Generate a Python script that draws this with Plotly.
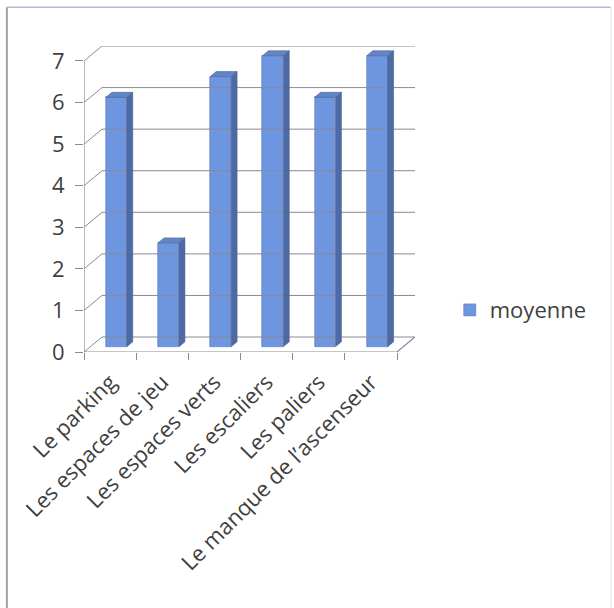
import plotly.graph_objects as go

# Survey results: mean score per item
categories = [
    "Le parking",
    "Les espaces de jeu",
    "Les espaces verts",
    "Les escaliers",
    "Les paliers",
    "Le manque de l\u2019ascenseur",
]
moyenne = [6, 2.5, 6.5, 7, 6, 7]
y_ticks = [0, 1, 2, 3, 4, 5, 6, 7]
series_name = "moyenne"

# Pseudo-3D projection (depth offset expressed in axis units)
DX, DY = 0.345, 0.36          # full depth of the box
F_FRONT, F_BACK = 0.35, 0.68  # bar front / back face depth fractions
BAR_W = 0.40

n = len(categories)
ymax = max(y_ticks)
centers = [i + 0.5 for i in range(n)]
boundaries = list(range(n + 1))

FONT = "Open Sans"
TXT = "#3f3f3f"
GRID = "#8a8a98"
FRONT = "#6e96e0"
SIDE = "#4c6aa8"
TOP = "#5f85cc"

fig = go.Figure()

# Back wall gridlines with the receding segment on the left wall
gx, gy = [], []
for k in y_ticks:
    gx += [0, DX, n + DX, None]
    gy += [k, k + DY, k + DY, None]
fig.add_trace(go.Scatter(x=gx, y=gy, mode="lines", line=dict(color=GRID, width=1),
                         hoverinfo="skip", showlegend=False))

# Floor front edge and right edge, plus the front value axis
fig.add_trace(go.Scatter(x=[0, n, n + DX], y=[0, 0, DY], mode="lines",
                         line=dict(color=GRID, width=1.2), hoverinfo="skip", showlegend=False))
fig.add_trace(go.Scatter(x=[0, 0], y=[0, ymax], mode="lines",
                         line=dict(color=GRID, width=1.2), hoverinfo="skip", showlegend=False))

# Bar side and top faces
sx, sy, tx, ty = [], [], [], []
ddx = (F_BACK - F_FRONT) * DX
ddy = (F_BACK - F_FRONT) * DY
for c, v in zip(centers, moyenne):
    xl = c + F_FRONT * DX - BAR_W / 2
    xr = c + F_FRONT * DX + BAR_W / 2
    b = F_FRONT * DY
    sx += [xr, xr + ddx, xr + ddx, xr, xr, None]
    sy += [b, b + ddy, b + ddy + v, b + v, b, None]
    tx += [xl, xr, xr + ddx, xl + ddx, xl, None]
    ty += [b + v, b + v, b + v + ddy, b + v + ddy, b + v, None]
fig.add_trace(go.Scatter(x=sx, y=sy, mode="lines", fill="toself", fillcolor=SIDE,
                         line=dict(color="#52627e", width=0.6), hoverinfo="skip", showlegend=False))
fig.add_trace(go.Scatter(x=tx, y=ty, mode="lines", fill="toself", fillcolor=TOP,
                         line=dict(color="#52627e", width=0.6), hoverinfo="skip", showlegend=False))

# Bar front faces
fig.add_trace(go.Bar(
    x=[c + F_FRONT * DX for c in centers],
    y=moyenne,
    base=[F_FRONT * DY] * n,
    width=BAR_W,
    name=series_name,
    marker=dict(color=FRONT, line=dict(color="#5a78b8", width=0.6)),
    showlegend=True,
))

fig.update_layout(
    width=614,
    height=608,
    margin=dict(l=84, r=199, t=46, b=256),
    paper_bgcolor="white",
    plot_bgcolor="white",
    font=dict(family=FONT, size=22, color=TXT),
    bargap=0,
    legend=dict(x=1.105, y=0.137, xanchor="left", yanchor="middle",
                font=dict(family=FONT, size=22, color=TXT), bgcolor="rgba(0,0,0,0)"),
    xaxis=dict(
        range=[0, n + DX],
        tickmode="array",
        tickvals=centers,
        ticktext=categories,
        tickangle=-45,
        ticks="",
        ticklabelstandoff=12,
        tickfont=dict(size=22),
        showgrid=False,
        zeroline=False,
        showline=False,
        minor=dict(tickmode="array", tickvals=boundaries, ticks="outside",
                   ticklen=7, tickcolor=GRID, showgrid=False),
        fixedrange=True,
    ),
    yaxis=dict(
        range=[0, ymax + DY],
        tickmode="array",
        tickvals=y_ticks,
        ticks="outside",
        ticklen=8,
        tickcolor=GRID,
        ticklabelstandoff=6,
        tickfont=dict(size=22),
        showgrid=False,
        zeroline=False,
        showline=False,
        fixedrange=True,
    ),
    shapes=[
        dict(type="line", xref="paper", yref="paper", x0=-0.233, x1=-0.233, y0=1.127, y1=-0.84,
             line=dict(color="#a2a2a2", width=2)),
        dict(type="line", xref="paper", yref="paper", x0=-0.233, x1=1.592, y0=1.127, y1=1.127,
             line=dict(color="#b8b8d6", width=1.5)),
        dict(type="line", xref="paper", yref="paper", x0=1.592, x1=1.592, y0=1.127, y1=-0.84,
             line=dict(color="#e4e4e4", width=1)),
    ],
)

fig.write_html("out.html")
